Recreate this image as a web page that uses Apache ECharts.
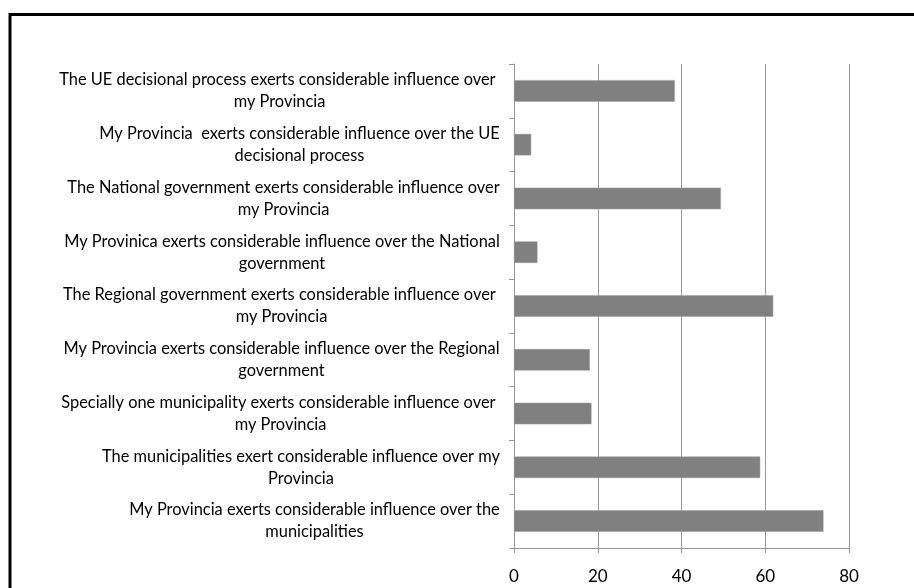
<!DOCTYPE html>
<html>
<head>
<meta charset="utf-8">
<script src="https://cdn.jsdelivr.net/npm/echarts@6/dist/echarts.min.js"></script>
<style>
html,body{margin:0;padding:0;background:#fff;}
#chart{width:914px;height:588px;}
</style>
</head>
<body>
<div id="chart"></div>
<script>
var categories = [
  "The UE decisional process exerts considerable influence over \nmy Provincia",
  "My Provincia  exerts considerable influence over the UE\ndecisional process",
  "The National government exerts considerable influence over\nmy Provincia",
  "My Provinica exerts considerable influence over the National\ngovernment",
  "The Regional government exerts considerable influence over \nmy Provincia",
  "My Provincia exerts considerable influence over the Regional\ngovernment",
  "Specially one municipality exerts considerable influence over \nmy Provincia",
  "The municipalities exert considerable influence over my\nProvincia",
  "My Provincia exerts considerable influence over the\nmunicipalities"
];
var values = [38.4, 4.1, 49.4, 5.6, 61.9, 18.1, 18.5, 58.8, 73.9];
var xTicks = [0, 20, 40, 60, 80];

var FONT = 'Lato, "Liberation Sans", sans-serif';
var LABEL_SIZE = 16.4;
var ctx = document.createElement('canvas').getContext('2d');
ctx.font = LABEL_SIZE + 'px ' + FONT;

var rich = {};
categories.forEach(function (c, i) {
  var w = 0;
  c.split('\n').forEach(function (l) { w = Math.max(w, ctx.measureText(l).width); });
  rich['c' + i] = { width: Math.ceil(w), align: 'center', fontSize: LABEL_SIZE, lineHeight: 22, color: '#000', fontFamily: FONT };
});

var chart = echarts.init(document.getElementById('chart'));
var gray = '#999999';
chart.setOption({
  animation: false,
  backgroundColor: '#ffffff',
  textStyle: { fontFamily: FONT },
  graphic: [{
    type: 'polyline',
    shape: { points: [[10, 600], [10, 14.5], [930, 14.5]] },
    style: { stroke: '#000', lineWidth: 3, fill: null }
  }],
  grid: { left: 514, right: 65, top: 64, bottom: 40, containLabel: false },
  xAxis: {
    type: 'value',
    min: xTicks[0],
    max: xTicks[xTicks.length - 1],
    interval: xTicks[1] - xTicks[0],
    axisLine: { show: true, lineStyle: { color: gray, width: 1 } },
    axisTick: { show: true, length: 5, lineStyle: { color: gray } },
    splitLine: { show: true, lineStyle: { color: gray, width: 1 } },
    axisLabel: { color: '#000', fontSize: 17, margin: 20 }
  },
  yAxis: {
    type: 'category',
    inverse: true,
    data: categories,
    axisLine: { show: true, lineStyle: { color: gray, width: 1 } },
    axisTick: { show: true, length: 5, lineStyle: { color: gray } },
    splitLine: { show: false },
    axisLabel: {
      color: '#000', fontSize: LABEL_SIZE, lineHeight: 22, align: 'right', margin: 14,
      rich: rich,
      formatter: function (value, index) {
        return value.split('\n').map(function (l) { return '{c' + index + '|' + l + '}'; }).join('\n');
      }
    }
  },
  series: [{
    type: 'bar',
    data: values,
    barWidth: '40%',
    itemStyle: { color: '#808080', borderColor: '#9a9a9a', borderWidth: 0.5 }
  }]
});
</script>
</body>
</html>
